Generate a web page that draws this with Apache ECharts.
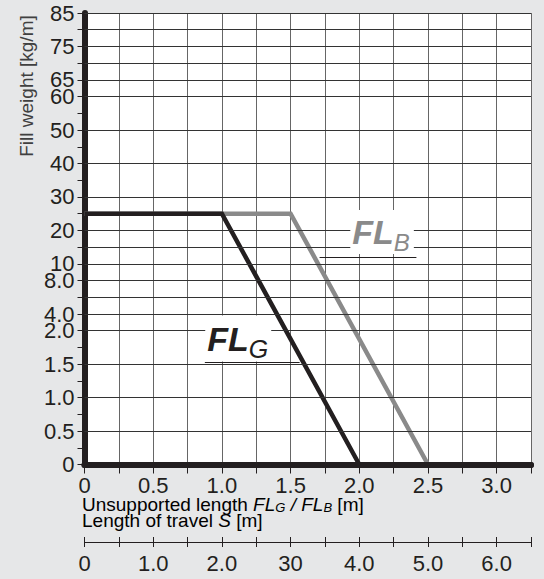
<!DOCTYPE html>
<html><head><meta charset="utf-8">
<script src="https://cdn.jsdelivr.net/npm/echarts@6/dist/echarts.min.js"></script>
<style>html,body{margin:0;padding:0;background:#e6e7e8;} #c{width:544px;height:579px;}</style>
</head><body><div id="c"></div>
<script>
// Y axis: evenly spaced steps (bottom to top) and the fill weight [kg/m] each step stands for
const yStepValues = [0,0.25,0.5,0.75,1.0,1.25,1.5,1.75,2.0,4.0,6.0,8.0,10,15,20,25,30,35,40,45,50,55,60,65,70,75,80,85];
const yTickLabels = ['0','','0.5','','1.0','','1.5','','2.0','4.0','','8.0','10','','20','','30','','40','','50','','60','65','','75','','85'];
const yGridValues = [0,0.5,1.0,1.5,2.0,4.0,6.0,8.0,10,15,20,30,40,50,60,65,70,75,80,85];
// X axis (unsupported length, every 0.25 m) and second axis (length of travel, every 0.5 m)
const xTickLabels = ['0','','0.5','','1.0','','1.5','','2.0','','2.5','','3.0',''];
const travelTickLabels = ['0','','1.0','','2.0','','30','','4.0','','5.0','','6.0',''];
// Series
const flgLength = [0, 1.0, 2.0];
const flgWeight = [25, 25, 0];
const flbLength = [0, 1.5, 2.5];
const flbWeight = [25, 25, 0];

const toStep = v => yStepValues.indexOf(v);
const FONT = '"Liberation Sans", Arial, sans-serif';
const INK = '#231f20';
const TXT = '#404040';
const GREY = '#8a8a8a';

const chart = echarts.init(document.getElementById('c'), null, {renderer: 'svg'});

const baseX = {type: 'value', gridIndex: 0, position: 'bottom'};

chart.setOption({
  animation: false,
  backgroundColor: '#e6e7e8',
  grid: {left: 84.5, right: 13, top: 13, bottom: 114.5, show: true, backgroundColor: '#ffffff', borderWidth: 0, outerBoundsMode: 'none', containLabel: false},
  xAxis: [
    Object.assign({}, baseX, {
      min: 0, max: 3.25, interval: 0.25,
      axisLine: {show: true, lineStyle: {color: INK, width: 6}},
      axisTick: {show: true, length: 9, lineStyle: {color: INK, width: 1}},
      axisLabel: {show: true, margin: 9.5, fontSize: 22, fontFamily: FONT, color: INK,
        formatter: v => xTickLabels[Math.round(v / 0.25)] || ''},
      splitLine: {show: true, lineStyle: {color: '#666', width: 1}}
    }),
    Object.assign({}, baseX, {
      min: 0, max: 6.5, interval: 0.5, offset: 77.5,
      axisLine: {show: true, lineStyle: {color: INK, width: 1}},
      axisTick: {show: true, length: 5, lineStyle: {color: INK, width: 1}},
      axisLabel: {show: true, margin: 10, fontSize: 22, fontFamily: FONT, color: INK,
        formatter: v => travelTickLabels[Math.round(v / 0.5)] || ''},
      splitLine: {show: false}
    }),
    Object.assign({}, baseX, {
      min: 0, max: 6.5, interval: 0.5, offset: 77.5,
      axisLine: {show: false},
      axisTick: {show: true, inside: true, length: 5, lineStyle: {color: INK, width: 1}},
      axisLabel: {show: false},
      splitLine: {show: false}
    }),
    Object.assign({}, baseX, {
      min: 0, max: 3.25, interval: 0.25, z: 10,
      axisLine: {show: true, lineStyle: {color: INK, width: 6}},
      axisTick: {show: false}, axisLabel: {show: false}, splitLine: {show: false}
    })
  ],
  yAxis: {
    type: 'value', min: 0, max: yStepValues.length - 1, interval: 1,
    axisLine: {show: true, lineStyle: {color: INK, width: 6}},
    axisTick: {show: true, length: 7, lineStyle: {color: INK, width: 1}},
    axisLabel: {show: true, margin: 10, fontSize: 22, fontFamily: FONT, color: INK,
      formatter: v => yTickLabels[Math.round(v)] || ''},
    splitLine: {show: false}
  },
  graphic: [
    {type: 'text', x: 26, y: 86, rotation: Math.PI / 2,
      style: {text: 'Fill weight [kg/m]', fontSize: 19, fontFamily: FONT, fill: TXT, align: 'center', verticalAlign: 'middle'}},
    {type: 'text', x: 82, y: 504,
      style: {
        text: '{n|Unsupported length }{i|FL}{is|G}{g| / }{gi|FL}{gs|B}{n| [m]}',
        verticalAlign: 'middle',
        rich: {
          n: {fontSize: 19, fontFamily: FONT, color: TXT},
          i: {fontSize: 19, fontFamily: FONT, fontStyle: 'italic', color: TXT},
          is: {fontSize: 13, fontFamily: FONT, fontStyle: 'italic', color: TXT, verticalAlign: 'bottom', lineHeight: 14},
          g: {fontSize: 19, fontFamily: FONT, fontStyle: 'italic', color: GREY},
          gi: {fontSize: 19, fontFamily: FONT, fontStyle: 'italic', color: GREY},
          gs: {fontSize: 13, fontFamily: FONT, fontStyle: 'italic', color: GREY, verticalAlign: 'bottom', lineHeight: 14}
        }
      }},
    {type: 'text', x: 82, y: 520,
      style: {
        text: '{n|Length of travel }{i|S}{n| [m]}',
        verticalAlign: 'middle',
        rich: {
          n: {fontSize: 19, fontFamily: FONT, color: TXT},
          i: {fontSize: 19, fontFamily: FONT, fontStyle: 'italic', color: TXT}
        }
      }}
  ],
  series: [
    {
      name: 'grid', type: 'line', data: [], z: 1, silent: true,
      markLine: {
        silent: true, symbol: ['none', 'none'], label: {show: false},
        lineStyle: {color: '#333', width: 1, type: 'solid'},
        emphasis: {disabled: true},
        data: yGridValues.map(v => ({yAxis: toStep(v)}))
      }
    },
    {
      name: 'FL_B', type: 'line', z: 3, showSymbol: false, symbol: 'none',
      lineStyle: {color: GREY, width: 4.5, cap: 'butt', join: 'miter'},
      data: flbLength.map((x, i) => [x, toStep(flbWeight[i])]),
      markPoint: {
        silent: true, symbol: 'rect', symbolSize: 1, itemStyle: {color: 'rgba(0,0,0,0)'},
        label: {show: true, position: 'inside', formatter: '{m|FL}{s|B}', backgroundColor: '#fff', padding: [0, 4, 0, 2],
          rich: {
            m: {fontSize: 34, fontWeight: 'bold', fontStyle: 'italic', fontFamily: FONT, color: GREY, lineHeight: 44},
            s: {fontSize: 24, fontStyle: 'italic', fontFamily: FONT, color: GREY, verticalAlign: 'bottom', lineHeight: 18}
          }},
        data: [{coord: [2.166, 13.9]}]
      },
      markLine: {
        silent: true, symbol: ['none', 'none'], label: {show: false},
        lineStyle: {color: INK, width: 1, type: 'solid'},
        data: [[{coord: [1.711, 12.38]}, {coord: [2.416, 12.38]}]]
      }
    },
    {
      name: 'FL_G', type: 'line', z: 4, showSymbol: false, symbol: 'none',
      lineStyle: {color: INK, width: 4.5, cap: 'butt', join: 'miter'},
      data: flgLength.map((x, i) => [x, toStep(flgWeight[i])]),
      markPoint: {
        silent: true, symbol: 'rect', symbolSize: 1, itemStyle: {color: 'rgba(0,0,0,0)'},
        label: {show: true, position: 'inside', formatter: '{m|FL}{s|G}', backgroundColor: '#fff', padding: [0, 3, 0, 2],
          rich: {
            m: {fontSize: 34, fontWeight: 'bold', fontStyle: 'italic', fontFamily: FONT, color: INK, lineHeight: 46},
            s: {fontSize: 25, fontStyle: 'italic', fontFamily: FONT, color: INK, verticalAlign: 'bottom', lineHeight: 22}
          }},
        data: [{coord: [1.119, 7.53]}]
      },
      markLine: {
        silent: true, symbol: ['none', 'none'], label: {show: false},
        lineStyle: {color: INK, width: 1, type: 'solid'},
        data: [[{coord: [0.876, 6.1]}, {coord: [1.566, 6.1]}]]
      }
    }
  ]
});
</script></body></html>
